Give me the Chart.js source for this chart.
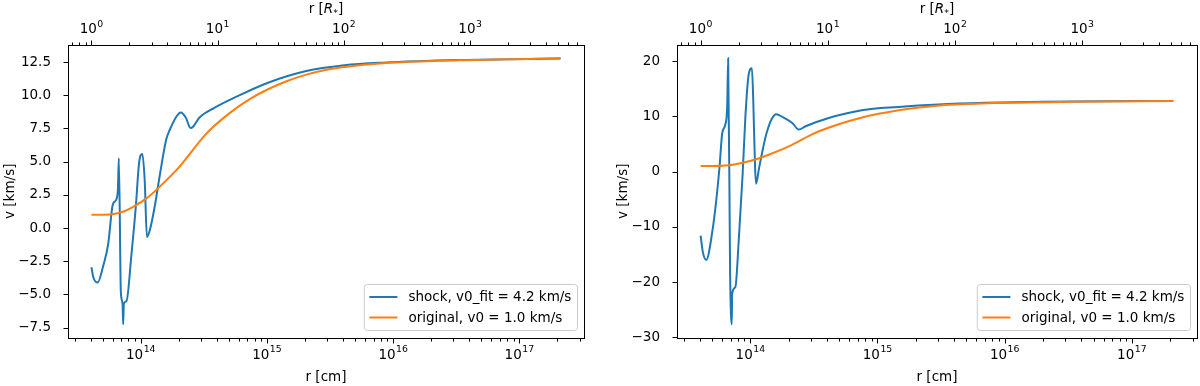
<!DOCTYPE html>
<html>
<head>
<meta charset="utf-8">
<script src="https://cdn.jsdelivr.net/npm/chart.js@4.4.1/dist/chart.umd.min.js"></script>
<style>
  html, body { margin: 0; padding: 0; background: #fff; }
  #wrap { position: relative; width: 1200px; height: 386px; }
  canvas { position: absolute; top: 0; }
</style>
</head>
<body>
<div id="wrap">
  <canvas id="left" width="600" height="386" style="left:0"></canvas>
  <canvas id="right" width="600" height="386" style="left:600px"></canvas>
</div>
<script>
// ---- data ----
const RSTAR = 4.07e13; // cm, r [R*] = r [cm] / RSTAR

// left panel, shock model
const rShockL = [4.07e13, 4.21e13, 4.56e13, 5.05e13, 5.53e13, 5.99e13, 6.36e13, 6.59e13, 6.71e13, 6.96e13,
  7.18e13, 7.26e13, 7.35e13, 7.71e13, 8.45e13, 9.14e13, 9.70e13, 1.03e14, 1.075e14, 1.12e14,
  1.18e14, 1.29e14, 1.41e14, 1.59e14, 1.70e14, 1.92e14, 2.08e14, 2.28e14, 2.48e14, 2.61e14,
  2.91e14, 3.83e14, 5.86e14, 1.02e15, 2.05e15, 4.11e15, 8.28e15, 3.34e16, 2.12e17];
const vShockL = [-2.95, -3.7, -4.1, -2.83, -1.18, 1.72, 2.1, 2.86, 5.26, -4.85,
  -5.7, -7.24, -5.7, -5.5, -1.94, 1.6, 4.88, 5.58, 3.6, -0.68,
  -0.17, 1.6, 3.86, 6.65, 7.4, 8.4, 8.7, 8.3, 7.53, 7.65,
  8.3, 9.05, 9.93, 10.94, 11.82, 12.25, 12.45, 12.65, 12.76];

// right panel, shock model
const rShockR = [4.07e13, 4.24e13, 4.51e13, 5.02e13, 5.40e13, 5.73e13, 6.01e13, 6.34e13, 6.58e13, 6.70e13,
  6.94e13, 7.15e13, 7.20e13, 7.63e13, 8.11e13, 8.71e13, 9.15e13, 9.70e13, 1.03e14, 1.055e14,
  1.09e14, 1.11e14, 1.17e14, 1.25e14, 1.34e14, 1.48e14, 1.60e14, 1.79e14, 2.14e14, 2.41e14,
  2.72e14, 4.14e14, 7.54e14, 1.46e15, 3.0e15, 7.0e15, 2.0e16, 6.0e16, 2.12e17];
const vShockR = [-11.56, -14.6, -15.97, -10.96, -5.2, 0.83, 6.89, 8.4, 11.7, 20.5,
  -18.5, -27.6, -22.1, -20.9, -12.5, -0.37, 9.9, 17.5, 18.7, 12.9,
  0.83, -2.2, 0.54, 3.86, 6.89, 9.6, 10.4, 9.9, 8.8, 7.6,
  8.2, 9.7, 11.1, 11.7, 12.15, 12.45, 12.65, 12.74, 12.78];

// original model (same in both panels)
const rOrig = [4.07e13, 5.02e13, 6.44e13, 7.48e13, 8.69e13, 1.11e14, 1.41e14, 2.03e14, 3.0e14, 3.55e14,
  5.09e14, 7.2e14, 1.02e15, 1.43e15, 2.05e15, 2.9e15, 4.11e15, 8.28e15, 3.34e16, 2.12e17];
const vOrig = [1.0, 1.0, 1.09, 1.28, 1.6, 2.23, 3.1, 4.62, 6.64, 7.4,
  8.67, 9.67, 10.45, 11.05, 11.55, 11.9, 12.12, 12.4, 12.63, 12.78];

const labels = ['shock, v0_fit = 4.2 km/s', 'original, v0 = 1.0 km/s'];
const yTicksL = [-7.5, -5.0, -2.5, 0.0, 2.5, 5.0, 7.5, 10.0, 12.5];
const yTicksR = [-30, -20, -10, 0, 10, 20];

const FONT = '"DejaVu Sans", sans-serif';
const FS = 13.5;
const BLUE = '#1f77b4', ORANGE = '#ff7f0e';

// matplotlib-like 5% autoscale margins
function margins(vals, log) {
  const t = log ? vals.map(Math.log10) : vals;
  const lo = Math.min(...t), hi = Math.max(...t), m = (hi - lo) * 0.05;
  return log ? [Math.pow(10, lo - m), Math.pow(10, hi + m)] : [lo - m, hi + m];
}

const minus = s => s.replace('-', '\u2212');

function logTicks(scale) {
  const ticks = [];
  const lo = Math.floor(Math.log10(scale.min)), hi = Math.ceil(Math.log10(scale.max));
  for (let e = lo; e <= hi; e++) {
    for (let m = 1; m <= 9; m++) {
      const v = m * Math.pow(10, e);
      if (v >= scale.min && v <= scale.max) ticks.push({ value: v, major: m === 1, exp: e });
    }
  }
  scale.ticks = ticks;
}

// "10" with a raised exponent, centred on each major tick
function powLabels(ctx, scale, baseY) {
  const big = `${FS}px ${FONT}`, small = `${FS * 0.69}px ${FONT}`;
  ctx.textAlign = 'left';
  ctx.textBaseline = 'alphabetic';
  scale.ticks.filter(t => t.major).forEach(t => {
    const p = scale.getPixelForValue(t.value);
    const ex = minus(String(t.exp));
    ctx.font = big; const w1 = ctx.measureText('10').width;
    ctx.font = small; const w2 = ctx.measureText(ex).width;
    const x0 = p - (w1 + w2 + 0.5) / 2;
    ctx.font = big; ctx.fillText('10', x0, baseY);
    ctx.font = small; ctx.fillText(ex, x0 + w1 + 0.5, baseY - 6.6);
  });
}

// frame, tick marks, x tick labels, legend and top axis title
const framePlugin = {
  id: 'frame',
  afterDraw(chart) {
    const { ctx, chartArea: a, scales } = chart;
    const L = Math.round(a.left) + 0.5, R = Math.round(a.right) + 0.5;
    const T = Math.round(a.top) + 0.5, B = Math.round(a.bottom) + 0.5;
    ctx.save();
    ctx.strokeStyle = '#000';
    ctx.lineWidth = 1;
    ctx.beginPath();
    scales.x.ticks.forEach(t => {
      const p = Math.round(scales.x.getPixelForValue(t.value)) + 0.5;
      ctx.moveTo(p, B); ctx.lineTo(p, B + (t.major ? 5 : 3));
    });
    scales.x2.ticks.forEach(t => {
      const p = Math.round(scales.x2.getPixelForValue(t.value)) + 0.5;
      ctx.moveTo(p, T); ctx.lineTo(p, T - (t.major ? 5 : 3));
    });
    scales.y.ticks.forEach(t => {
      const p = Math.round(scales.y.getPixelForValue(t.value)) + 0.5;
      ctx.moveTo(L, p); ctx.lineTo(L - 5, p);
    });
    ctx.stroke();
    ctx.strokeRect(L, T, R - L, B - T);

    ctx.fillStyle = '#000';
    powLabels(ctx, scales.x, a.bottom + 21);
    powLabels(ctx, scales.x2, a.top - 11.7);

    // legend, lower right
    ctx.font = `${FS}px ${FONT}`;
    const ds = chart.data.datasets;
    const tw = Math.max(...ds.map(d => ctx.measureText(d.label).width));
    const w = 5.6 + 28 + 11 + tw + 5.6, h = 46;
    const bx = a.right - 7 - w, by = a.bottom - 7.5 - h;
    ctx.beginPath();
    ctx.roundRect(bx + 0.5, by + 0.5, w, h, 3);
    ctx.fillStyle = 'rgba(255,255,255,0.8)';
    ctx.fill();
    ctx.strokeStyle = '#cccccc';
    ctx.stroke();
    ds.forEach((d, i) => {
      const cy = by + 13 + i * 20.5;
      ctx.strokeStyle = d.borderColor;
      ctx.lineWidth = 2;
      ctx.beginPath();
      ctx.moveTo(bx + 5.6, cy); ctx.lineTo(bx + 33.6, cy);
      ctx.stroke();
      ctx.fillStyle = '#000';
      ctx.textBaseline = 'middle';
      ctx.textAlign = 'left';
      ctx.fillText(d.label, bx + 44.6, cy + 0.5);
    });

    // top axis title: r [R*]
    const parts = [
      { t: 'r [', f: `${FS}px ${FONT}`, dy: 0 },
      { t: 'R', f: `italic ${FS}px ${FONT}`, dy: 0 },
      { t: '*', f: `${FS * 0.7}px ${FONT}`, dy: 3 },
      { t: ']', f: `${FS}px ${FONT}`, dy: 0 }
    ];
    let tot = 0;
    parts.forEach(p => { ctx.font = p.f; p.w = ctx.measureText(p.t).width; tot += p.w; });
    let x = (a.left + a.right) / 2 - tot / 2;
    ctx.fillStyle = '#000';
    ctx.textBaseline = 'alphabetic';
    parts.forEach(p => { ctx.font = p.f; ctx.fillText(p.t, x, 13 + p.dy); x += p.w; });
    ctx.restore();
  }
};

function makePanel(id, rShock, vShock, yTicks, fmt, yAxisW, padRight, yTitlePad) {
  const [xmin, xmax] = margins(rShock.concat(rOrig), true);
  const [ymin, ymax] = margins(vShock.concat(vOrig), false);
  const font = { family: FONT, size: FS };
  const logAxis = (position, min, max, fitH) => ({
    type: 'logarithmic', position, min, max, display: true, bounds: 'data',
    grid: { display: false }, border: { display: false },
    afterBuildTicks: logTicks,
    afterFit: s => { s.height = fitH; },
    ticks: { display: false, autoSkip: false, maxRotation: 0, minRotation: 0 }
  });

  const x = logAxis('bottom', xmin, xmax, 48.5);
  x.title = { display: true, text: 'r [cm]', color: '#000', font, padding: { top: 0, bottom: 0.5 } };
  const x2 = logAxis('top', xmin / RSTAR, xmax / RSTAR, 45);

  return new Chart(document.getElementById(id), {
    type: 'line',
    data: {
      datasets: [
        { label: labels[0], data: rShock.map((r, i) => ({ x: r, y: vShock[i] })),
          borderColor: BLUE, order: 1 },
        { label: labels[1], data: rOrig.map((r, i) => ({ x: r, y: vOrig[i] })),
          borderColor: ORANGE, order: 0 }
      ]
    },
    options: {
      responsive: false, animation: false, events: [],
      layout: { padding: { left: 0, right: padRight, top: 0, bottom: 0 } },
      elements: {
        line: { borderWidth: 2, tension: 0.4, cubicInterpolationMode: 'monotone', fill: false },
        point: { radius: 0 }
      },
      plugins: { legend: { display: false }, tooltip: { enabled: false } },
      scales: {
        x, x2,
        y: {
          type: 'linear', position: 'left', min: ymin, max: ymax,
          grid: { display: false }, border: { display: false },
          afterBuildTicks: s => { s.ticks = yTicks.map(v => ({ value: v })); },
          afterFit: s => { s.width = yAxisW; },
          ticks: { padding: 9, color: '#000', font, callback: v => minus(fmt(v)) },
          title: { display: true, text: 'v [km/s]', color: '#000', font, padding: { top: yTitlePad, bottom: 0 } }
        }
      }
    },
    plugins: [framePlugin]
  });
}

makePanel('left', rShockL, vShockL, yTicksL, v => v.toFixed(1), 68, 16, 2);
makePanel('right', rShockR, vShockR, yTicksR, v => v.toFixed(0), 77, 3, 15);
</script>
</body>
</html>
